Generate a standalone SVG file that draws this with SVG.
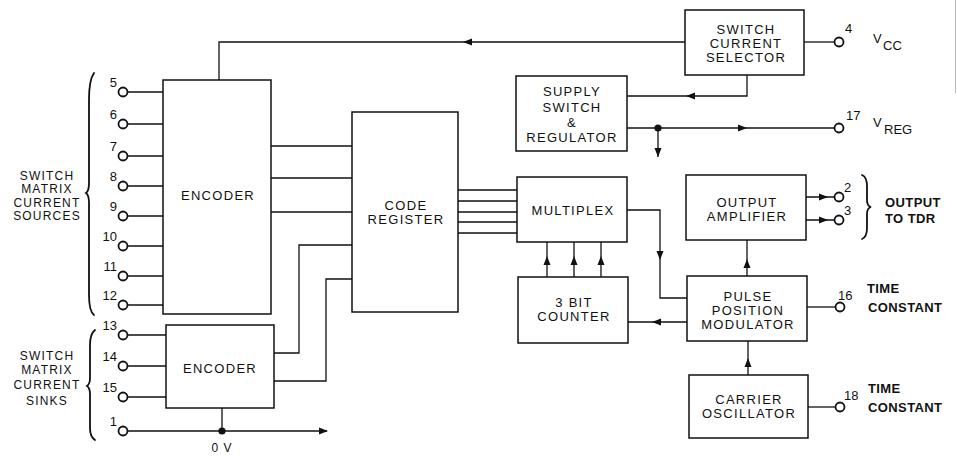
<svg xmlns="http://www.w3.org/2000/svg" xmlns:xlink="http://www.w3.org/1999/xlink" width="957" height="456" viewBox="0 0 957 456">
<style>
.box{fill:#fff;stroke:#111;stroke-width:1.5}
.ln{fill:none;stroke:#111;stroke-width:1.3}
.pin{fill:#fff;stroke:#111;stroke-width:1.8}
.br{fill:none;stroke:#111;stroke-width:1.8;stroke-linecap:round}
text{font-family:"Liberation Sans",Arial,sans-serif;fill:#111}
.t{font-size:13px;letter-spacing:1.3px;text-anchor:middle}
.l{font-size:12px;letter-spacing:1.2px;text-anchor:middle}
.n{font-size:13px}
.ne{font-size:13px;text-anchor:end}
.b{font-size:13px;font-weight:bold;letter-spacing:0.4px}
</style>
<defs>
<path id="ah" d="M0,0 L-9,-3.5 L-9,3.5 Z" fill="#111"/>
<circle id="dot" r="3.6" fill="#111"/>
</defs>
<rect width="957" height="456" fill="#fff"/>
<line x1="955.5" y1="0" x2="955.5" y2="93" stroke="#bbb" stroke-width="1"/>

<g id="connectors">
<path class="ln" d="M685,42 H219 V80"/>
<path class="ln" d="M747,75 V96 H627"/>
<path class="ln" d="M627,128 H835"/>
<path class="ln" d="M658,128 V157"/>
<path class="ln" d="M804,42 H835"/>
<path class="ln" d="M271,146 H352 M271,178 H352 M271,212 H352"/>
<path class="ln" d="M274,353 H299 V245 H352"/>
<path class="ln" d="M274,381 H326 V279 H352"/>
<path class="ln" d="M458,190 H517 M458,201 H517 M458,212 H517 M458,222 H517 M458,233 H517"/>
<path class="ln" d="M627,210 H660 V298 H687"/>
<path class="ln" d="M547,277 V242 M574,277 V242 M601,277 V242"/>
<path class="ln" d="M687,322 H628"/>
<path class="ln" d="M747,276 V240"/>
<path class="ln" d="M748,375 V341"/>
<path class="ln" d="M806,197 H835 M806,220 H835"/>
<path class="ln" d="M807,307 H836"/>
<path class="ln" d="M808,407 H836"/>
<path class="ln" d="M127.5,92 H163 M127.5,124 H163 M127.5,156 H163 M127.5,186 H163 M127.5,216 H163 M127.5,246 H163 M127.5,276 H163 M127.5,305 H163"/>
<path class="ln" d="M127.5,335 H166 M127.5,366 H166 M127.5,397 H166"/>
<path class="ln" d="M127.5,431 H327 M222,431 V408"/>
<use xlink:href="#dot" x="658" y="128"/>
<use xlink:href="#dot" x="222" y="431"/>
<use xlink:href="#ah" transform="translate(463,42) rotate(180)"/>
<use xlink:href="#ah" transform="translate(686,96) rotate(180)"/>
<use xlink:href="#ah" transform="translate(747,128)"/>
<use xlink:href="#ah" transform="translate(658,157) rotate(90)"/>
<use xlink:href="#ah" transform="translate(660,260) rotate(90)"/>
<use xlink:href="#ah" transform="translate(547,256) rotate(-90)"/>
<use xlink:href="#ah" transform="translate(574,256) rotate(-90)"/>
<use xlink:href="#ah" transform="translate(601,256) rotate(-90)"/>
<use xlink:href="#ah" transform="translate(652,322) rotate(180)"/>
<use xlink:href="#ah" transform="translate(747,259) rotate(-90)"/>
<use xlink:href="#ah" transform="translate(748,358) rotate(-90)"/>
<use xlink:href="#ah" transform="translate(828,197)"/>
<use xlink:href="#ah" transform="translate(828,220)"/>
<use xlink:href="#ah" transform="translate(328,431)"/>
</g>

<g id="encoder1"><rect class="box" x="163" y="80" width="108" height="234"/><text class="t" x="218" y="200">ENCODER</text></g>
<g id="encoder2"><rect class="box" x="166" y="325" width="108" height="83"/><text class="t" x="220" y="373">ENCODER</text></g>
<g id="code-register"><rect class="box" x="352" y="112" width="106" height="200"/><text class="t" x="406" y="210">CODE</text><text class="t" x="406" y="224">REGISTER</text></g>
<g id="multiplex"><rect class="box" x="517" y="177" width="110" height="65"/><text class="t" x="573" y="215">MULTIPLEX</text></g>
<g id="counter"><rect class="box" x="518" y="277" width="110" height="66"/><text class="t" x="574" y="307">3 BIT</text><text class="t" x="574" y="321">COUNTER</text></g>
<g id="supply-switch"><rect class="box" x="516" y="76" width="111" height="75"/><text class="t" x="572" y="96">SUPPLY</text><text class="t" x="572" y="112">SWITCH</text><text class="t" x="572" y="127">&amp;</text><text class="t" x="572" y="142">REGULATOR</text></g>
<g id="switch-current-selector"><rect class="box" x="685" y="10" width="119" height="65"/><text class="t" x="746" y="34">SWITCH</text><text class="t" x="746" y="48">CURRENT</text><text class="t" x="746" y="62">SELECTOR</text></g>
<g id="output-amplifier"><rect class="box" x="686" y="175" width="120" height="65"/><text class="t" x="747" y="207">OUTPUT</text><text class="t" x="747" y="221">AMPLIFIER</text></g>
<g id="ppm"><rect class="box" x="687" y="276" width="120" height="65"/><text class="t" x="748" y="301">PULSE</text><text class="t" x="748" y="315">POSITION</text><text class="t" x="748" y="329">MODULATOR</text></g>
<g id="carrier-oscillator"><rect class="box" x="689" y="375" width="119" height="63"/><text class="t" x="749" y="404">CARRIER</text><text class="t" x="749" y="418">OSCILLATOR</text></g>

<g id="pins-left">
<circle class="pin" cx="123" cy="92" r="4.5"/><text class="ne" x="117" y="87">5</text>
<circle class="pin" cx="123" cy="124" r="4.5"/><text class="ne" x="117" y="119">6</text>
<circle class="pin" cx="123" cy="156" r="4.5"/><text class="ne" x="117" y="151">7</text>
<circle class="pin" cx="123" cy="186" r="4.5"/><text class="ne" x="117" y="181">8</text>
<circle class="pin" cx="123" cy="216" r="4.5"/><text class="ne" x="117" y="211">9</text>
<circle class="pin" cx="123" cy="246" r="4.5"/><text class="ne" x="117" y="241">10</text>
<circle class="pin" cx="123" cy="276" r="4.5"/><text class="ne" x="117" y="271">11</text>
<circle class="pin" cx="123" cy="305" r="4.5"/><text class="ne" x="117" y="300">12</text>
<circle class="pin" cx="123" cy="335" r="4.5"/><text class="ne" x="117" y="330">13</text>
<circle class="pin" cx="123" cy="366" r="4.5"/><text class="ne" x="117" y="361">14</text>
<circle class="pin" cx="123" cy="397" r="4.5"/><text class="ne" x="117" y="392">15</text>
<circle class="pin" cx="123" cy="431" r="4.5"/><text class="ne" x="117" y="426">1</text>
<text x="222" y="452" font-size="12" text-anchor="middle" letter-spacing="1">0 V</text>
</g>

<g id="pins-right">
<circle class="pin" cx="839" cy="42" r="4.5"/><text class="n" x="845" y="33">4</text>
<text class="n" x="873" y="43">V</text><text class="n" x="883" y="50">CC</text>
<circle class="pin" cx="839" cy="128" r="4.5"/><text class="n" x="846" y="120">17</text>
<text class="n" x="873" y="127">V</text><text class="n" x="884" y="134">REG</text>
<circle class="pin" cx="839" cy="197" r="4.5"/><text class="n" x="844" y="192">2</text>
<circle class="pin" cx="839" cy="220" r="4.5"/><text class="n" x="844" y="215">3</text>
<circle class="pin" cx="840" cy="307" r="4.5"/><text class="n" x="838" y="300">16</text>
<circle class="pin" cx="840" cy="407" r="4.5"/><text class="n" x="844" y="400">18</text>
<text class="b" x="867" y="293">TIME</text><text class="b" x="868" y="312">CONSTANT</text>
<text class="b" x="868" y="393">TIME</text><text class="b" x="868" y="412">CONSTANT</text>
<text class="b" x="885" y="207">OUTPUT</text><text class="b" x="885" y="223">TO TDR</text>
<path class="br" d="M862,175 Q867,177 867,186 L867,200 Q867,206 871,207 Q867,208 867,214 L867,228 Q867,237 862,239"/>
</g>

<g id="labels-left">
<path class="br" d="M94,73 Q89,80 89,100 L89,183 Q89,191 86,193 Q89,195 89,203 L89,295 Q89,311 94,315"/>
<path class="br" d="M95,330 Q90,334 90,345 L90,378 Q90,384 87,386 Q90,388 90,394 L90,428 Q90,437 95,440"/>
<text class="l" x="47" y="180">SWITCH</text>
<text class="l" x="47" y="193">MATRIX</text>
<text class="l" x="47" y="207">CURRENT</text>
<text class="l" x="47" y="220">SOURCES</text>
<text class="l" x="47" y="360">SWITCH</text>
<text class="l" x="47" y="374">MATRIX</text>
<text class="l" x="47" y="389">CURRENT</text>
<text class="l" x="47" y="405">SINKS</text>
</g>
</svg>
